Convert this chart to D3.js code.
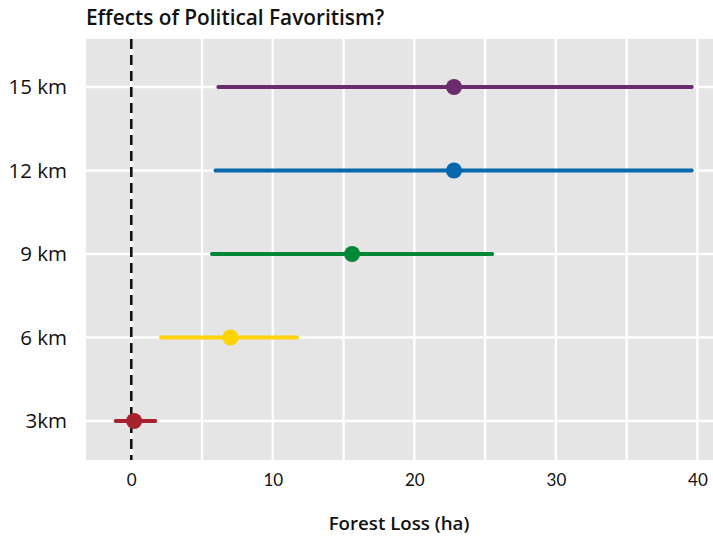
<!DOCTYPE html>
<html>
<head>
<meta charset="utf-8">
<script src="https://cdn.jsdelivr.net/npm/d3@7"></script>
<style>
  html, body { margin: 0; padding: 0; background: #fff; }
  svg { display: block; font-family: "Open Sans", Lato, sans-serif; }
</style>
</head>
<body>
<svg id="chart" width="713" height="538"></svg>
<script>
// Buffer distances and their estimated effects with confidence intervals
const categories = ["3km", "6 km", "9 km", "12 km", "15 km"];
const estimates  = [0.2, 7.0, 15.6, 22.8, 22.8];
const lowerCI    = [-1.1, 2.1, 5.7, 5.95, 6.15];
const upperCI    = [1.7, 11.7, 25.5, 39.6, 39.6];
const colors     = ["#a6222f", "#ffd300", "#008837", "#0567ae", "#6a2c6c"];
const xTicks     = [0, 10, 20, 30, 40];
const xMinor     = [5, 15, 25, 35];

const svg = d3.select("#chart");
const panel = { left: 86, right: 713, top: 39, bottom: 460 };

const x = d3.scaleLinear().domain([-3.2, 41.1]).range([panel.left, panel.right]);
const y = d3.scalePoint().domain(categories)
  .range([panel.bottom - 39, panel.top + 48]).padding(0);

// panel background
svg.append("rect")
  .attr("x", panel.left).attr("y", panel.top)
  .attr("width", panel.right - panel.left)
  .attr("height", panel.bottom - panel.top)
  .attr("fill", "#e5e5e5");

// grid lines
const grid = svg.append("g").attr("stroke", "#fff");
grid.selectAll("line.vx").data(xTicks.concat(xMinor)).join("line")
  .attr("x1", d => x(d)).attr("x2", d => x(d))
  .attr("y1", panel.top).attr("y2", panel.bottom)
  .attr("stroke-width", 2.4);
grid.selectAll("line.hy").data(categories).join("line")
  .attr("x1", panel.left).attr("x2", panel.right)
  .attr("y1", d => y(d)).attr("y2", d => y(d))
  .attr("stroke-width", 2.4);

// zero reference line
svg.append("line")
  .attr("x1", x(0)).attr("x2", x(0))
  .attr("y1", panel.top).attr("y2", panel.bottom)
  .attr("stroke", "#111").attr("stroke-width", 2.6)
  .attr("stroke-dasharray", "10,6");

// intervals and estimates
const rows = categories.map((c, i) => ({ c, est: estimates[i], lo: lowerCI[i], hi: upperCI[i], col: colors[i] }));
svg.append("g").selectAll("line").data(rows).join("line")
  .attr("x1", d => x(d.lo)).attr("x2", d => x(d.hi))
  .attr("y1", d => y(d.c)).attr("y2", d => y(d.c))
  .attr("stroke", d => d.col).attr("stroke-width", 4)
  .attr("stroke-linecap", "round");
svg.append("g").selectAll("circle").data(rows).join("circle")
  .attr("cx", d => x(d.est)).attr("cy", d => y(d.c))
  .attr("r", 8).attr("fill", d => d.col);

// axes
const xAxis = svg.append("g")
  .attr("transform", `translate(0,${panel.bottom})`)
  .call(d3.axisBottom(x).tickValues(xTicks).tickSize(0).tickPadding(14));
xAxis.select(".domain").remove();
xAxis.selectAll("text").attr("font-size", 17).attr("fill", "#111")
  .attr("font-family", "Lato, sans-serif");

const yAxis = svg.append("g")
  .attr("transform", `translate(${panel.left},0)`)
  .call(d3.axisLeft(y).tickSize(0).tickPadding(19));
yAxis.select(".domain").remove();
yAxis.selectAll("text").attr("font-size", 20.5).attr("fill", "#111")
  .attr("font-family", "'Open Sans', sans-serif");

// titles
svg.append("text")
  .attr("x", panel.left).attr("y", 25)
  .attr("font-size", 20.8).attr("font-weight", 600).attr("fill", "#111")
  .text("Effects of Political Favoritism?");

svg.append("text")
  .attr("x", (panel.left + 712) / 2).attr("y", 530)
  .attr("text-anchor", "middle")
  .attr("font-size", 18.7).attr("font-weight", 600).attr("fill", "#111")
  .text("Forest Loss (ha)");
</script>
</body>
</html>
